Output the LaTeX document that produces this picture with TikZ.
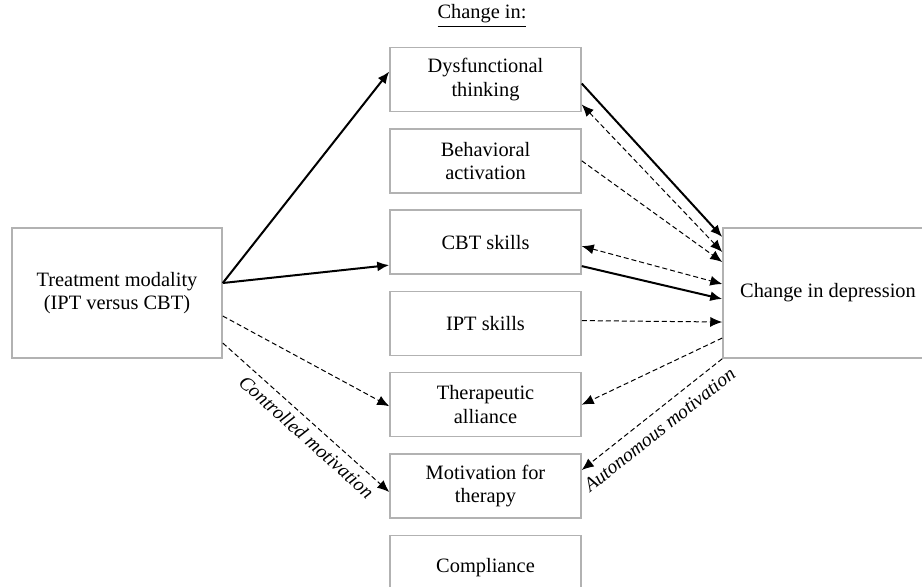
\documentclass[tikz,border=0pt]{standalone}
\usepackage{fontspec}
\setmainfont{Liberation Serif}
\usetikzlibrary{positioning}
\usetikzlibrary{arrows.meta}

\begin{document}
\begin{tikzpicture}
		[x=0.5pt, y=-0.5pt, font=\fontsize{10.2}{11.7}\selectfont,
		>={Latex[length=6pt, width=5pt]},
		box/.style={draw=black!30, line width=0.75pt, align=center, inner sep=0pt},
		sidebox/.style={box, minimum width=105pt, minimum height=65pt},
		midbox/.style={box, minimum width=95.5pt, minimum height=32pt, node distance=7.9pt},
		strong/.style={->, line width=1pt},
		weak/.style={->, line width=0.5pt, dash pattern=on 2.5pt off 1.5pt},
		lbl/.style={sloped, font=\fontsize{9.8}{11}\selectfont\itshape}]
		\clip (0,0) rectangle (922,586);
		\node[sidebox] (treat) at (117,293) {Treatment modality\\(IPT versus CBT)};
		\node[sidebox] (dep) at (828,293) {Change in depression};
		\node[midbox] (dysf) at (485.5,79.5) {Dysfunctional\\thinking};
		\node[midbox, below=of dysf] (behav) {Behavioral\\activation};
		\node[midbox, below=of behav] (cbt) {CBT skills};
		\node[midbox, below=of cbt] (ipt) {IPT skills};
		\node[midbox, below=of ipt] (ther) {Therapeutic\\alliance};
		\node[midbox, below=of ther] (motiv) {Motivation for\\therapy};
		\node[midbox, below=of motiv] (compl) {Compliance};
		\node (head) at (482,16) {\underline{Change in:}};

		% treatment modality
		\draw[strong] ([yshift=5pt]treat.east) -- ([yshift=4pt]dysf.west);
		\draw[strong] ([yshift=5pt]treat.east) -- ([yshift=-11.5pt]cbt.west);
		\draw[weak] ([yshift=-11.5pt]treat.east) -- ([yshift=-0.75pt]ther.west);
		\draw[weak] ([yshift=-25pt]treat.east) -- node[lbl, below, pos=0.56] {Controlled motivation} ([yshift=-3pt]motiv.west);

		% change in depression
		\draw[strong] ([yshift=-2pt]dysf.east) -- ([yshift=28pt]dep.west);
		\draw[weak, <->] ([yshift=-12.5pt]dysf.east) -- ([yshift=20.5pt]dep.west);
		\draw[weak] (behav.east) -- ([yshift=15.5pt]dep.west);
		\draw[weak, <->] ([yshift=-2pt]cbt.east) -- ([yshift=4.5pt]dep.west);
		\draw[strong] ([yshift=-12pt]cbt.east) -- ([yshift=-3pt]dep.west);
		\draw[weak] ([yshift=1.4pt]ipt.east) -- ([yshift=-14.5pt]dep.west);
		\draw[weak] ([yshift=-22.5pt]dep.west) -- (ther.east);
		\draw[weak] (dep.south west) -- node[lbl, below=1.5pt, pos=0.52] {Autonomous motivation} ([yshift=8pt]motiv.east);
	\end{tikzpicture}
\end{document}
